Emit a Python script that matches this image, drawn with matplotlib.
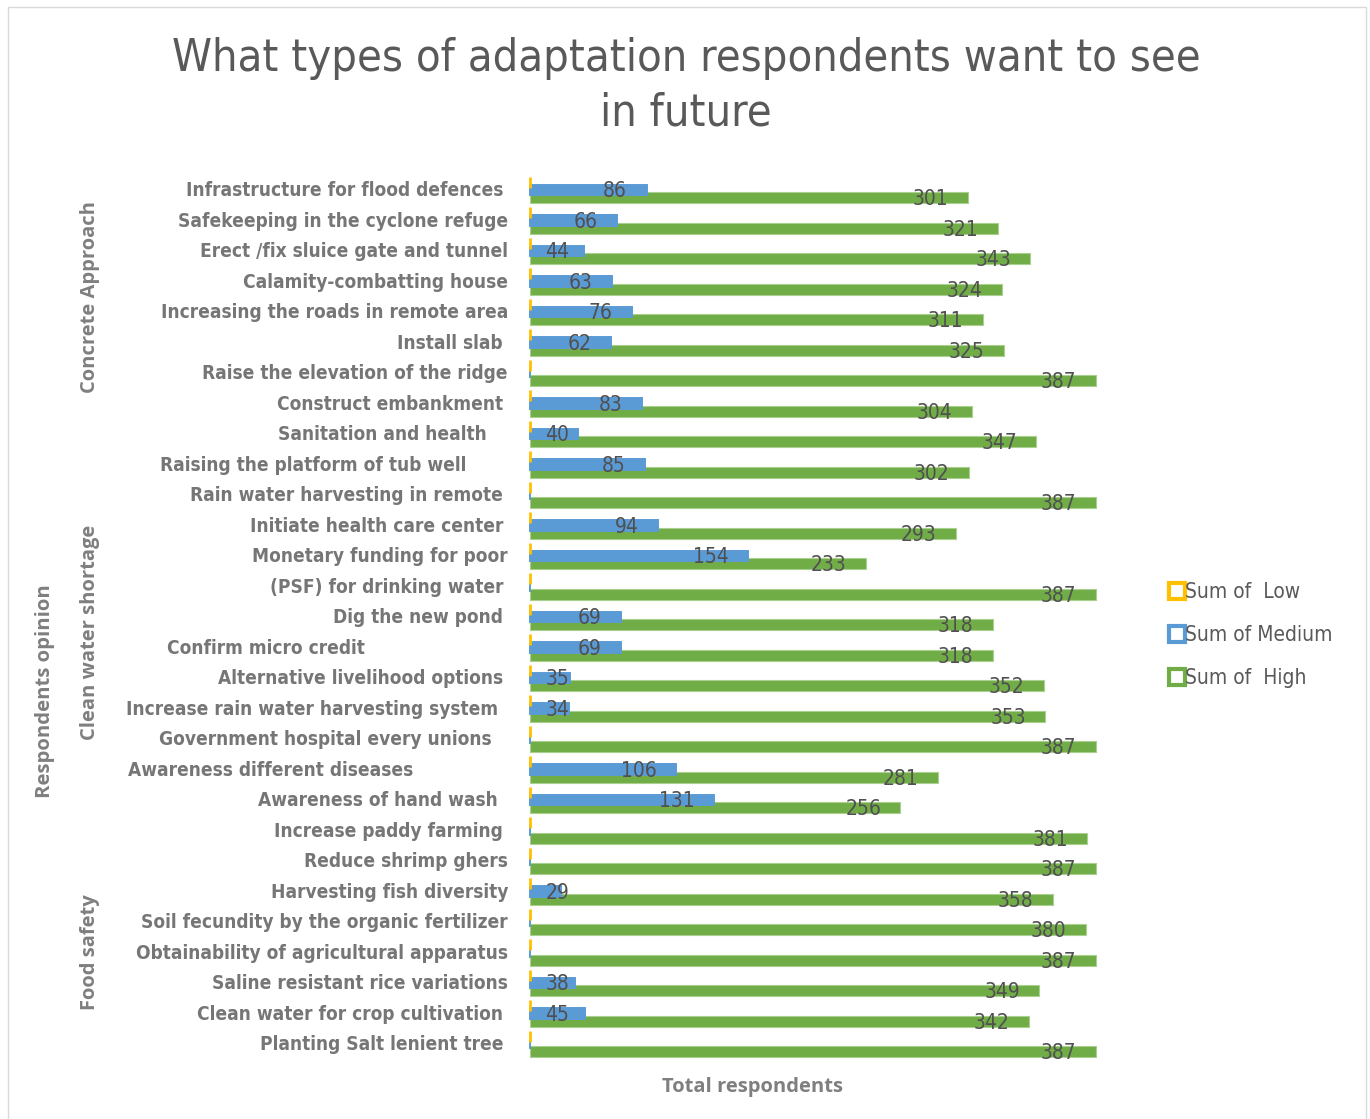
import matplotlib
matplotlib.use("Agg")
import matplotlib.pyplot as plt
from matplotlib.lines import Line2D
from matplotlib.patches import Rectangle
import matplotlib.transforms as mtrans
import numpy as np

categories = [
    "Infrastructure for flood defences",
    "Safekeeping in the cyclone refuge",
    "Erect /fix sluice gate and tunnel",
    "Calamity-combatting house",
    "Increasing the roads in remote area",
    "Install slab",
    "Raise the elevation of the ridge",
    "Construct embankment",
    "Sanitation and health",
    "Raising the platform of tub well",
    "Rain water harvesting in remote",
    "Initiate health care center",
    "Monetary funding for poor",
    "(PSF) for drinking water",
    "Dig the new pond",
    "Confirm micro credit",
    "Alternative livelihood options",
    "Increase rain water harvesting system",
    "Government hospital every unions",
    "Awareness different diseases",
    "Awareness of hand wash",
    "Increase paddy farming",
    "Reduce shrimp ghers",
    "Harvesting fish diversity",
    "Soil fecundity by the organic fertilizer",
    "Obtainability of agricultural apparatus",
    "Saline resistant rice variations",
    "Clean water for crop cultivation",
    "Planting Salt lenient tree",
]
low = [0, 0, 0, 0, 0, 0, 0, 0, 0, 0, 0, 0, 0, 0, 0,
       0, 0, 0, 0, 0, 0, 0, 0, 0, 0, 0, 0, 0, 0]
medium = [86, 66, 44, 63, 76, 62, 0, 83, 40, 85, 0, 94, 154, 0, 69,
          69, 35, 34, 0, 106, 131, 0, 0, 29, 0, 0, 38, 45, 0]
high = [301, 321, 343, 324, 311, 325, 387, 304, 347, 302, 387, 293, 233, 387, 318,
        318, 352, 353, 387, 281, 256, 381, 387, 358, 380, 387, 349, 342, 387]
series_names = ["Sum of  Low", "Sum of Medium", "Sum of  High"]
groups = ["Concrete Approach", "Clean water shortage", "Food safety"]
group_rows = [(0, 7), (8, 21), (22, 28)]
outer_label = "Respondents opinion"
title = "What types of adaptation respondents want to see\nin future"
xlabel = "Total respondents"

# layout: right edge (px) of each category label, the source chart is ragged
label_right_px = [503, 508, 508, 508, 508, 503, 508, 503, 487, 466, 503, 503, 508, 503, 503,
                  365, 503, 498, 492, 413, 498, 503, 508, 508, 508, 508, 508, 503, 503]

W, H = 1370, 1119
C_LOW, C_MED, C_HIGH = "#FFC000", "#5B9BD5", "#70AD47"
TXT = "#505050"
CAT = "#767676"
NARROW = ["Liberation Sans Narrow", "DejaVu Sans"]
WIDE = ["Open Sans", "DejaVu Sans"]

# x axis as in the source: minimum sits a little above zero, bars start at the axis edge
XMIN, XMAX = 8, 400

fig = plt.figure(figsize=(W / 100, H / 100), dpi=100)
ax = fig.add_axes([530 / W, 1 - 1059.25 / H, 585.6 / W, 884.5 / H])

n = len(categories)
y = np.arange(n)
bh = 0.36


def bars(vals, offs, color, edge, lw, z):
    v = np.maximum(np.array(vals, dtype=float), XMIN) - XMIN
    ax.barh(y + offs, v, left=XMIN, height=bh, color=color, edgecolor=edge, lw=lw,
            zorder=z, clip_on=False)


bars(high, 0.25, C_HIGH, "#A9D08E", 0.8, 1)
bars(medium, 0.0, C_MED, C_MED, 1.4, 2)
bars(low, -0.25, C_LOW, C_LOW, 2.0, 3)

ax.set_xlim(XMIN, XMAX)
ax.set_ylim(n - 0.5, -0.5)
ax.axis("off")


def value_label(v, yy):
    if v == 0:
        return
    kw = dict(textcoords="offset points", va="center", fontsize=15, color=TXT,
              family=NARROW, fontstretch="condensed", zorder=5)
    if v > 45:
        ax.annotate(str(v), (v, yy), xytext=(-14, -1), ha="right", **kw)
    else:
        ax.annotate(str(v), (0, yy), xycoords=("axes fraction", "data"), xytext=(11, -1),
                    ha="left", **kw)


for i in range(n):
    value_label(medium[i], y[i])
    value_label(high[i], y[i] + 0.25)

trans = mtrans.blended_transform_factory(fig.transFigure, ax.transData)
for i, cat in enumerate(categories):
    ax.text(label_right_px[i] / W, y[i] + 0.02, cat, transform=trans, ha="right", va="center",
            fontsize=13.7, fontweight="bold", color=CAT, family=NARROW,
            fontstretch="condensed")

for name, (a, b) in zip(groups, group_rows):
    yc = ax.transData.transform((0, (a + b) / 2))[1] / H
    fig.text(90 / W, yc, name, rotation=90, ha="center", va="center", fontsize=14.5,
             fontweight="bold", color="#7F7F7F", family=WIDE)
fig.text(45 / W, 1 - 691 / H, outer_label, rotation=90, ha="center", va="center",
         fontsize=14.6, fontweight="bold", color="#7F7F7F", family=WIDE)

fig.text(752 / W, 1 - 1087 / H, xlabel, ha="center", va="center", fontsize=14.5,
         fontweight="bold", color="#7F7F7F", family=WIDE)

fig.text(686 / W, 1 - 86 / H, title, ha="center", va="center", fontsize=32.4,
         color="#595959", family=NARROW, fontstretch="condensed", linespacing=1.35)

handles = [Line2D([], [], ls="none", marker="s", markersize=11, markerfacecolor="white",
                  markeredgecolor=c, markeredgewidth=3) for c in (C_LOW, C_MED, C_HIGH)]
leg = fig.legend(handles, series_names, loc="center left", bbox_to_anchor=(1152 / W, 1 - 635 / H),
                 frameon=False, handlelength=0.6, handletextpad=0.1, labelspacing=1.1,
                 prop={"family": NARROW, "size": 15, "stretch": "condensed"})
for t in leg.get_texts():
    t.set_color("#595959")

fig.patches.append(Rectangle((8 / W, -0.01), 1358 / W, 1 - 7 / H + 0.01, transform=fig.transFigure,
                             fill=False, edgecolor="#D9D9D9", lw=1))

fig.savefig("out.png", dpi=100)
